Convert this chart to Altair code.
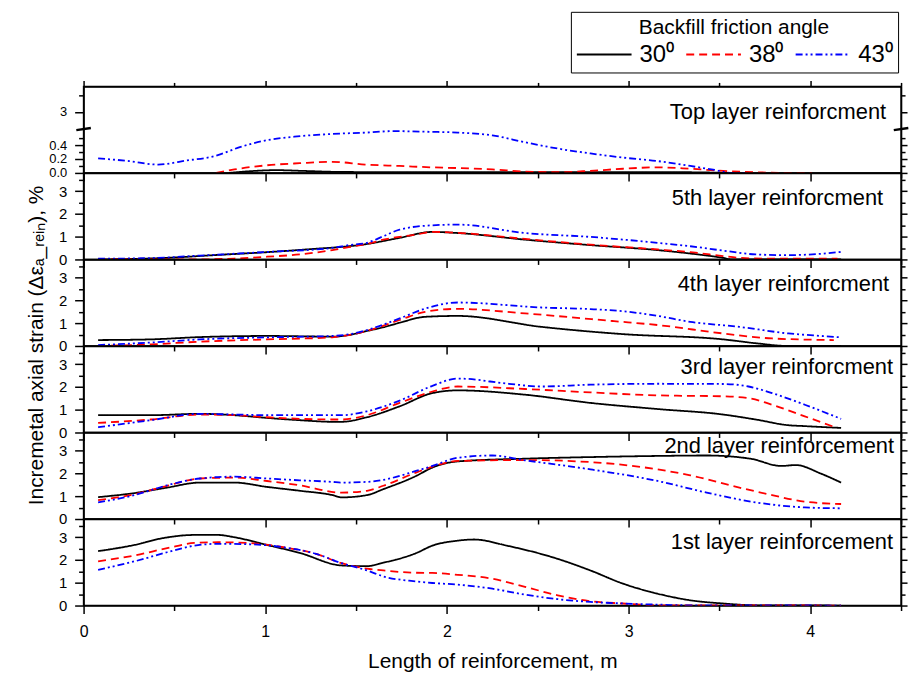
import altair as alt
import pandas as pd

FONT = "Liberation Sans"

ANGLES = ["30\u2070", "38\u2070", "43\u2070"]
COLORS = ["#000000", "#ff0000", "#0000ff"]
DASHES = [[1, 0], [8, 5], [7, 3, 2, 3, 2, 3]]

PANEL_NAMES = [
    "Top layer reinforcment",
    "5th layer reinforcment",
    "4th layer reinforcment",
    "3rd layer reinforcment",
    "2nd layer reinforcement",
    "1st layer reinforcement",
]

X_TICKS = [0, 0.5, 1, 1.5, 2, 2.5, 3, 3.5, 4, 4.5]
Y_TICKS = [0, 0.5, 1, 1.5, 2, 2.5, 3, 3.5]
# top panel uses a broken axis: 0-0.6 below the break, 3-3.5 above it
TOP_Y_TICKS = [0, 0.1, 0.2, 0.3, 0.4, 0.5, 0.877, 1.114]
TOP_Y_MAJOR = [0, 0.2, 0.4, 0.877]
TOP_Y_LABELS = ["0.0", "0.2", "0.4", "3"]
TOP_BREAK = [0.615, 0.645]

# ---- Top layer ----
top_x_30 = [0.80, 0.95, 1.06, 1.20, 1.40, 1.80, 2.40, 3.00, 3.30, 3.55]
top_y_30 = [0.00, 0.03, 0.04, 0.03, 0.015, 0.01, 0.01, 0.01, 0.01, 0.00]
top_x_38 = [0.73, 0.83, 1.01, 1.19, 1.37, 1.55, 1.74, 1.92, 2.06, 2.25, 2.43, 2.61, 2.79, 2.97, 3.16, 3.34, 3.52, 3.70, 3.88, 4.01]
top_y_38 = [0.00, 0.05, 0.11, 0.14, 0.16, 0.12, 0.10, 0.08, 0.07, 0.05, 0.02, 0.01, 0.03, 0.06, 0.08, 0.06, 0.03, 0.01, 0.00, 0.00]
top_x_43 = [0.08, 0.25, 0.41, 0.57, 0.72, 0.86, 1.01, 1.16, 1.37, 1.56, 1.70, 1.92, 2.06, 2.25, 2.43, 2.61, 2.79, 2.97, 3.16, 3.34, 3.48, 3.57, 3.65]
top_y_43 = [0.21, 0.17, 0.12, 0.18, 0.24, 0.37, 0.47, 0.52, 0.56, 0.58, 0.60, 0.59, 0.58, 0.54, 0.44, 0.35, 0.28, 0.22, 0.17, 0.10, 0.04, 0.00, 0.00]

# ---- 5th layer ----
l5_x_30 = [0.08, 0.46, 0.72, 1.01, 1.28, 1.46, 1.56, 1.74, 1.92, 2.06, 2.43, 2.79, 3.16, 3.34, 3.52, 3.57, 4.17]
l5_y_30 = [0.00, 0.07, 0.19, 0.32, 0.47, 0.58, 0.68, 0.95, 1.21, 1.16, 0.87, 0.63, 0.41, 0.26, 0.07, 0.00, 0.00]
l5_x_38 = [0.08, 0.64, 0.83, 1.01, 1.19, 1.37, 1.46, 1.56, 1.65, 1.83, 1.92, 2.06, 2.43, 2.79, 3.16, 3.34, 3.52, 3.61, 3.79, 4.15]
l5_y_38 = [0.00, 0.00, 0.04, 0.12, 0.22, 0.41, 0.54, 0.68, 0.87, 1.09, 1.21, 1.17, 0.90, 0.65, 0.44, 0.32, 0.15, 0.07, 0.03, 0.03]
l5_x_43 = [0.08, 0.37, 0.64, 1.01, 1.37, 1.46, 1.56, 1.65, 1.74, 1.92, 2.06, 2.43, 2.79, 3.16, 3.34, 3.52, 3.70, 3.88, 4.06, 4.17]
l5_y_43 = [0.03, 0.06, 0.17, 0.33, 0.51, 0.63, 0.73, 1.02, 1.31, 1.50, 1.53, 1.16, 0.99, 0.73, 0.58, 0.39, 0.22, 0.19, 0.25, 0.33]

# ---- 4th layer ----
l4_x_30 = [0.08, 0.37, 0.64, 1.01, 1.37, 1.46, 1.56, 1.65, 1.74, 1.88, 2.06, 2.52, 2.97, 3.52, 3.70, 3.88, 4.17]
l4_y_30 = [0.26, 0.29, 0.39, 0.44, 0.41, 0.48, 0.66, 0.82, 1.02, 1.28, 1.32, 0.84, 0.52, 0.29, 0.12, 0.00, 0.00]
l4_x_38 = [0.08, 0.37, 0.64, 1.01, 1.37, 1.46, 1.56, 1.74, 1.88, 2.06, 2.43, 2.92, 3.16, 3.52, 3.79, 4.13]
l4_y_38 = [0.00, 0.07, 0.19, 0.29, 0.38, 0.48, 0.66, 1.14, 1.50, 1.63, 1.43, 1.09, 0.92, 0.55, 0.33, 0.26]
l4_x_43 = [0.08, 0.37, 0.64, 1.01, 1.37, 1.46, 1.56, 1.74, 1.88, 2.06, 2.52, 2.79, 3.00, 3.16, 3.34, 3.61, 3.88, 4.06, 4.17]
l4_y_43 = [0.04, 0.15, 0.29, 0.38, 0.44, 0.51, 0.70, 1.21, 1.64, 1.91, 1.69, 1.62, 1.50, 1.32, 1.06, 0.84, 0.55, 0.44, 0.38]

# ---- 3rd layer ----
l3_x_30 = [0.08, 0.37, 0.64, 0.83, 1.01, 1.19, 1.37, 1.42, 1.56, 1.74, 1.92, 2.06, 2.43, 2.79, 3.16, 3.52, 3.70, 3.88, 3.97, 4.17]
l3_y_30 = [0.76, 0.76, 0.82, 0.76, 0.64, 0.54, 0.47, 0.47, 0.67, 1.15, 1.73, 1.85, 1.66, 1.30, 1.03, 0.79, 0.57, 0.32, 0.28, 0.20]
l3_x_38 = [0.08, 0.37, 0.64, 0.83, 1.01, 1.19, 1.37, 1.42, 1.56, 1.74, 1.92, 2.06, 2.43, 2.79, 3.16, 3.52, 3.66, 3.79, 3.97, 4.13]
l3_y_38 = [0.42, 0.57, 0.79, 0.76, 0.67, 0.60, 0.57, 0.57, 0.76, 1.30, 1.80, 2.02, 1.91, 1.76, 1.63, 1.59, 1.51, 1.22, 0.71, 0.25]
l3_x_43 = [0.08, 0.37, 0.64, 0.83, 1.01, 1.19, 1.42, 1.56, 1.74, 1.92, 2.06, 2.34, 2.52, 2.79, 3.16, 3.52, 3.66, 3.79, 3.97, 4.17]
l3_y_43 = [0.23, 0.54, 0.82, 0.79, 0.76, 0.76, 0.76, 0.93, 1.40, 2.05, 2.37, 2.14, 2.02, 2.10, 2.14, 2.13, 2.02, 1.73, 1.22, 0.60]

# ---- 2nd layer ----
l2_x_30 = [0.08, 0.28, 0.46, 0.64, 0.83, 1.01, 1.19, 1.37, 1.42, 1.56, 1.65, 1.83, 1.92, 2.06, 2.43, 2.79, 3.16, 3.43, 3.67, 3.84, 3.92, 4.06, 4.17]
l2_y_30 = [0.96, 1.14, 1.38, 1.60, 1.60, 1.41, 1.24, 1.05, 0.95, 1.05, 1.31, 1.89, 2.26, 2.53, 2.65, 2.72, 2.77, 2.79, 2.65, 2.33, 2.37, 1.99, 1.60]
l2_x_38 = [0.08, 0.28, 0.46, 0.64, 0.83, 1.01, 1.19, 1.42, 1.56, 1.65, 1.83, 1.92, 2.06, 2.43, 2.79, 3.16, 3.34, 3.61, 3.79, 3.97, 4.17]
l2_y_38 = [0.83, 1.09, 1.46, 1.78, 1.82, 1.67, 1.48, 1.16, 1.24, 1.46, 2.04, 2.30, 2.55, 2.59, 2.50, 2.18, 1.92, 1.38, 1.05, 0.76, 0.66]
l2_x_43 = [0.08, 0.28, 0.46, 0.64, 0.83, 1.01, 1.19, 1.37, 1.42, 1.56, 1.65, 1.83, 1.92, 2.06, 2.25, 2.43, 2.79, 3.16, 3.43, 3.70, 3.97, 4.17]
l2_y_43 = [0.73, 1.05, 1.48, 1.78, 1.86, 1.78, 1.70, 1.63, 1.60, 1.63, 1.72, 2.11, 2.33, 2.69, 2.79, 2.58, 2.18, 1.67, 1.16, 0.73, 0.51, 0.47]

# ---- 1st layer ----
l1_x_30 = [0.08, 0.28, 0.43, 0.61, 0.74, 0.83, 1.01, 1.19, 1.42, 1.56, 1.65, 1.83, 1.92, 2.06, 2.15, 2.33, 2.61, 2.79, 2.97, 3.16, 3.34, 3.52, 3.70, 4.17]
l1_y_30 = [2.39, 2.66, 2.95, 3.10, 3.10, 3.00, 2.66, 2.31, 1.76, 1.73, 1.88, 2.30, 2.63, 2.85, 2.90, 2.63, 2.05, 1.54, 0.96, 0.52, 0.23, 0.09, 0.01, 0.00]
l1_x_38 = [0.08, 0.28, 0.46, 0.61, 0.74, 0.92, 1.10, 1.28, 1.42, 1.56, 1.65, 1.83, 1.92, 2.06, 2.25, 2.43, 2.61, 2.79, 2.97, 3.16, 4.17]
l1_y_38 = [1.94, 2.20, 2.52, 2.75, 2.78, 2.74, 2.56, 2.27, 1.86, 1.62, 1.54, 1.44, 1.43, 1.35, 1.18, 0.82, 0.45, 0.19, 0.09, 0.01, 0.00]
l1_x_43 = [0.08, 0.28, 0.46, 0.61, 0.74, 0.92, 1.10, 1.28, 1.42, 1.56, 1.65, 1.83, 1.92, 2.06, 2.25, 2.43, 2.61, 2.79, 2.97, 3.16, 3.34, 4.17]
l1_y_43 = [1.57, 1.94, 2.34, 2.63, 2.71, 2.69, 2.56, 2.27, 1.86, 1.54, 1.28, 1.06, 0.99, 0.92, 0.74, 0.48, 0.28, 0.16, 0.09, 0.04, 0.01, 0.00]

SERIES = [
    [(top_x_30, top_y_30), (top_x_38, top_y_38), (top_x_43, top_y_43)],
    [(l5_x_30, l5_y_30), (l5_x_38, l5_y_38), (l5_x_43, l5_y_43)],
    [(l4_x_30, l4_y_30), (l4_x_38, l4_y_38), (l4_x_43, l4_y_43)],
    [(l3_x_30, l3_y_30), (l3_x_38, l3_y_38), (l3_x_43, l3_y_43)],
    [(l2_x_30, l2_y_30), (l2_x_38, l2_y_38), (l2_x_43, l2_y_43)],
    [(l1_x_30, l1_y_30), (l1_x_38, l1_y_38), (l1_x_43, l1_y_43)],
]

# layout / style
W, H = 822, 87
X_MAX = 4.5
Y_MAX = 3.8
TOP_PX_PER_UNIT = 70.0
TITLE_DX = [-15, -18, -12, -8, -7, -8]
TITLE_DY = [26, 25, 25, 21, 14, 23]
Y_TITLE = "Incremetal axial strain (\u0394\u03b5\u2090_\u1d63\u2091\u1d62\u2099), %"
X_TITLE = "Length of reinforcement, m"
LEGEND_TITLE = "Backfill friction angle"


def frame(i):
    rows = []
    for ang, (xs, ys) in zip(ANGLES, SERIES[i]):
        for xv, yv in zip(xs, ys):
            rows.append({"x": xv, "y": yv, "angle": ang})
    return pd.DataFrame(rows)


def major_test(values):
    return "indexof([" + ",".join(str(v) for v in values) + "], datum.value) >= 0"


def top_label_expr():
    expr = "''"
    for v, lab in zip(TOP_Y_MAJOR[::-1], TOP_Y_LABELS[::-1]):
        expr = f"datum.value === {v} ? '{lab}' : ({expr})"
    return expr


legend = alt.Legend(
    title=LEGEND_TITLE, orient="none", legendX=490, legendY=-75,
    direction="horizontal", titleAnchor="middle", titleFontSize=21, titleLimit=600,
    titleFont=FONT, titleFontWeight="normal", titleColor="black", titlePadding=4,
    labelFontSize=24, labelFont=FONT, labelColor="black", labelOffset=7,
    symbolType="stroke", symbolSize=3025, symbolStrokeWidth=2, clipHeight=26,
    columnPadding=11, strokeColor="black", padding=5,
)


def panel(i):
    df = frame(i)
    is_top = i == 0
    is_bottom = i == len(SERIES) - 1
    xscale = alt.Scale(domain=[0, X_MAX], nice=False, zero=False)
    if is_top:
        ymax = H / TOP_PX_PER_UNIT
        yvals = TOP_Y_TICKS
        ytest = major_test(TOP_Y_MAJOR)
        ylabel = top_label_expr()
        ylabel_size = 13
    else:
        ymax = Y_MAX
        yvals = Y_TICKS
        ytest = "datum.value % 1 === 0"
        ylabel = "datum.value % 1 === 0 ? format(datum.value, 'd') : ''"
        ylabel_size = 15
    yscale = alt.Scale(domain=[0, ymax], nice=False)
    ytick = {"condition": {"test": ytest, "value": 9}, "value": 5}
    ytick_r = {"condition": {"test": ytest, "value": 6}, "value": 4}
    xtick = {"condition": {"test": "datum.value % 1 === 0", "value": 8}, "value": 5}
    xtick_t = {"condition": {"test": "datum.value % 1 === 0", "value": 6}, "value": 4}

    x_axis = alt.Axis(
        orient="bottom", values=X_TICKS, labels=is_bottom, tickSize=xtick,
        labelExpr="datum.value % 1 === 0 && datum.value <= 4 ? format(datum.value, 'd') : ''",
        labelFlush=False, labelOverlap=False, labelFontSize=16, labelPadding=10,
        titleFontSize=21, titlePadding=11,
    )
    y_kwargs = dict(
        orient="left", values=yvals, tickSize=ytick, labelExpr=ylabel,
        labelOverlap=False, labelFontSize=ylabel_size, labelPadding=8,
    )
    if i == 2:
        y_kwargs.update(titleY=H - 1, titleFontSize=21, titlePadding=12)
    y_axis = alt.Axis(**y_kwargs)

    leg = legend if is_top else None
    lines = alt.Chart(df).mark_line(strokeWidth=1.8, clip=True, interpolate="monotone").encode(
        x=alt.X("x:Q", scale=xscale, axis=x_axis, title=X_TITLE if is_bottom else None),
        y=alt.Y("y:Q", scale=yscale, axis=y_axis, title=Y_TITLE if i == 2 else None),
        color=alt.Color("angle:N", scale=alt.Scale(domain=ANGLES, range=COLORS), legend=leg),
        strokeDash=alt.StrokeDash("angle:N", scale=alt.Scale(domain=ANGLES, range=DASHES), legend=leg),
    )

    top_axis = alt.Axis(orient="top", values=X_TICKS, labels=False, tickSize=xtick_t, title=None)
    right_axis = alt.Axis(orient="right", values=yvals, labels=False, tickSize=ytick_r, title=None)
    ghost = alt.Chart(df).mark_line(strokeOpacity=0).encode(
        x=alt.X("x:Q", scale=xscale, axis=top_axis if is_top else None),
        y=alt.Y("y:Q", scale=yscale, axis=right_axis),
        detail="angle:N",
    )

    name = alt.Chart(pd.DataFrame({"name": [PANEL_NAMES[i]]})).mark_text(
        align="right", baseline="middle", dx=TITLE_DX[i], dy=TITLE_DY[i],
        fontSize=22, font=FONT, color="black",
    ).encode(
        x=alt.X(datum=X_MAX, scale=xscale, axis=None),
        y=alt.Y(datum=ymax, scale=yscale, axis=None),
        text="name:N",
    )

    layers = [lines, ghost, name]
    if is_top:
        bdf = pd.DataFrame({"xc": [0, X_MAX]})
        brk = alt.Chart(bdf).mark_rule(strokeWidth=2.5, color="black", clip=False).transform_calculate(
            x1="datum.xc - 0.04", x2="datum.xc + 0.04"
        ).encode(
            x=alt.X("x1:Q", scale=xscale, axis=None),
            x2="x2:Q",
            y=alt.Y(datum=TOP_BREAK[0], scale=yscale, axis=None),
            y2=alt.Y2(datum=TOP_BREAK[1]),
        )
        layers.append(brk)

    return alt.layer(*layers).resolve_axis(x="independent", y="independent").properties(
        width=W, height=H,
    )


chart = alt.vconcat(*[panel(i) for i in range(len(SERIES))], spacing=0, bounds="flush").resolve_scale(
    color="independent", strokeDash="independent"
).resolve_legend(color="independent", strokeDash="independent").properties(
    padding={"left": 16, "top": 0, "right": 0, "bottom": 0}
).configure(font=FONT).configure_view(stroke="black", strokeWidth=1.5).configure_axis(
    domainColor="black", tickColor="black", labelColor="black", titleColor="black",
    domainWidth=1.5, tickWidth=1.5, labelFont=FONT, titleFont=FONT, grid=False,
    titleFontWeight="normal",
)

chart.save("out.html", embed_options={"renderer": "svg", "actions": False})
